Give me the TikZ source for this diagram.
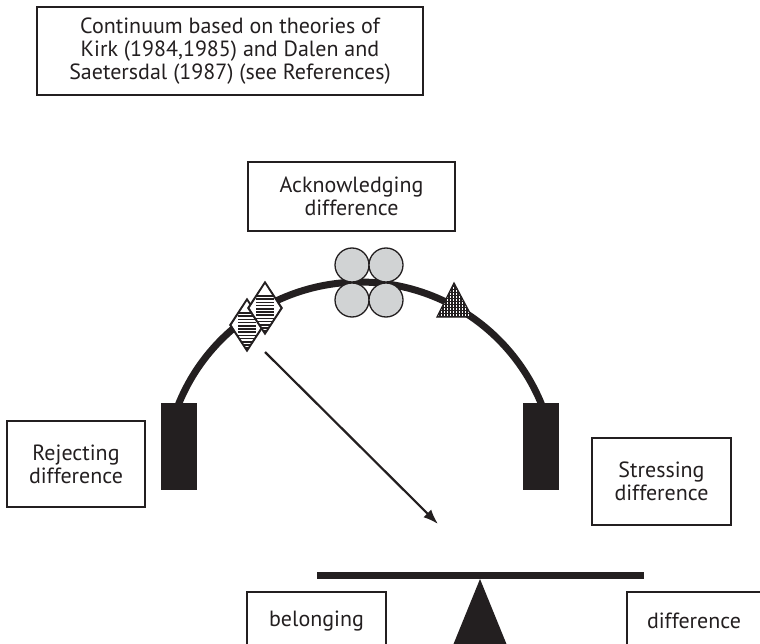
\documentclass[tikz,border=0pt]{standalone}
\usepackage{fontspec}
\setmainfont{PT Sans}
\usetikzlibrary{arrows.meta,shapes.geometric}

\definecolor{ink}{HTML}{231F20}
\definecolor{ballgrey}{HTML}{D1D3D4}

\tikzset{
  labelbox/.style={draw=ink,line width=1.4pt,align=center,text=ink,inner sep=0pt,
    font=\fontsize{22}{23}\selectfont},
  ball/.style={circle,draw=ink,line width=1.3pt,fill=ballgrey,minimum size=34pt,inner sep=0pt},
  stripemark/.style={diamond,draw=ink,line width=1.3pt,fill=white,
    minimum width=33pt,minimum height=51pt,inner sep=0pt},
  post/.style={fill=ink}
}

% horizontal hatching inside a diamond node
\newcommand{\hatchdiamond}[1]{%
  \begin{scope}
    \clip (#1.north) -- (#1.east) -- (#1.south) -- (#1.west) -- cycle;
    \foreach \k in {0,...,16}{%
      \draw[ink,line width=1.6pt] ([yshift=-\k*3.2pt-1pt]#1.north west) -- ([yshift=-\k*3.2pt-1pt]#1.north east);
    }
  \end{scope}
  \draw[ink,line width=1.3pt] (#1.north) -- (#1.east) -- (#1.south) -- (#1.west) -- cycle;
}

\begin{document}
\begin{tikzpicture}[x=1pt,y=-1pt]
  \useasboundingbox (0,0) rectangle (760,644);
  \clip (0,0) rectangle (760,644);

  \node[labelbox,minimum width=386pt,minimum height=88pt] (theory) at (230,51)
    {Continuum based on theories of\\Kirk (1984,1985) and Dalen and\\Saetersdal (1987) (see References)};

  \node[labelbox,minimum width=207pt,minimum height=69pt] (acknowledge) at (351.5,196.5)
    {Acknowledging\\difference};
  \node[labelbox,minimum width=138pt,minimum height=86pt] (reject) at (76,464)
    {Rejecting\\difference};
  \node[labelbox,minimum width=139pt,minimum height=87pt] (stress) at (661.5,481.5)
    {Stressing\\difference};

  % the continuum arc
  \draw[ink,line width=7pt] (360,478) ++(160:195.9pt)
    arc[start angle=160,end angle=20,radius=195.9pt];
  \fill[post] (161,403) rectangle (197,490);
  \fill[post] (523,403) rectangle (559,490);

  % markers on the arc
  \foreach \cx in {352,386}{%
    \foreach \cy in {265,300}{%
      \node[ball] (ball-\cx-\cy) at (\cx,\cy) {};
    }
  }
  \node[stripemark] (stripeA) at (247,325) {};
  \hatchdiamond{stripeA}
  \node[stripemark] (stripeB) at (265,308) {};
  \hatchdiamond{stripeB}

  \coordinate (tritop) at (454,283);
  \coordinate (triright) at (472,317);
  \coordinate (trileft) at (437,317);
  \begin{scope}
    \clip (tritop) -- (triright) -- (trileft) -- cycle;
    \fill[ink] (tritop) -- (triright) -- (trileft) -- cycle;
    \foreach \i in {0,...,12}{%
      \foreach \j in {0,...,12}{%
        \fill[white] (437.6+\i*3,287.3+\j*3) rectangle +(1.7,1.7);
      }
    }
  \end{scope}
  \draw[ink,line width=1.3pt,line join=miter] (tritop) -- (triright) -- (trileft) -- cycle;

  \coordinate (arrowfrom) at (265,352);
  \coordinate (arrowto) at (438,524);
  \draw[ink,line width=2.2pt,-{Latex[length=15pt,width=11pt]}] (arrowfrom) -- (arrowto);

  % the see-saw
  \fill[post] (317,572) rectangle (644,579);
  \fill[post] (480,579) -- (447,660) -- (513,660) -- cycle;

  \node[labelbox,minimum width=139pt,minimum height=58pt] (belong) at (316.5,621)
    {belonging};
  \node[labelbox,minimum width=134pt,minimum height=58pt] (differ) at (694,621)
    {difference};
\end{tikzpicture}
\end{document}
